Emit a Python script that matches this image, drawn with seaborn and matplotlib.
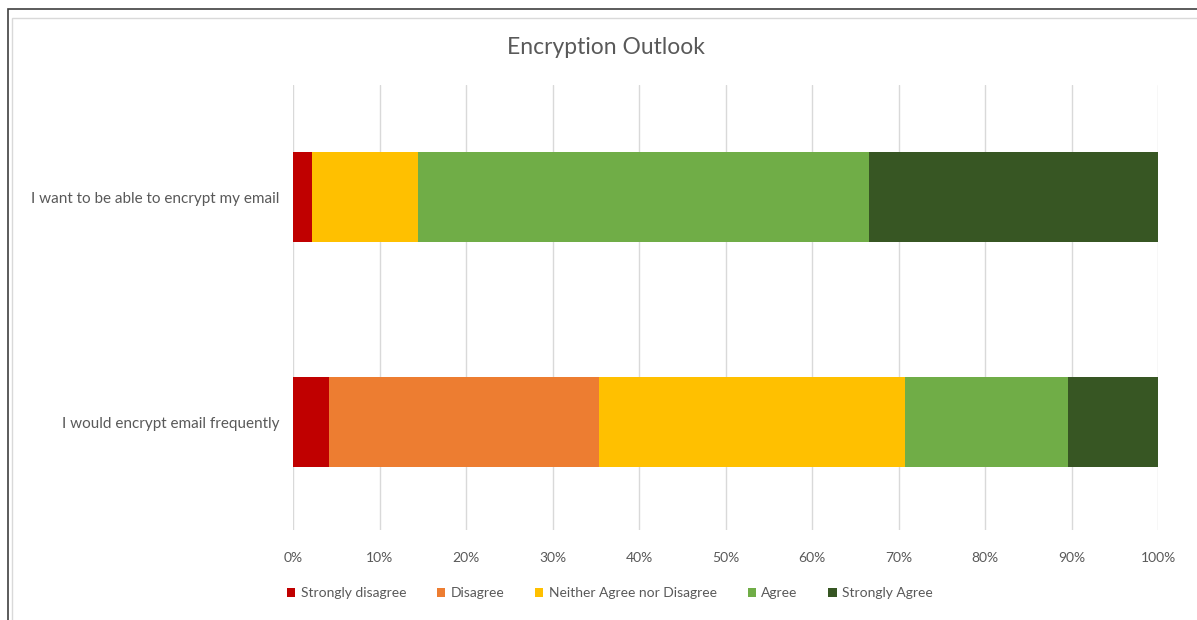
import matplotlib
matplotlib.use("Agg")
import matplotlib.pyplot as plt
from matplotlib.patches import Rectangle, Patch
import pandas as pd
import seaborn as sns

# data (percent of respondents)
categories = ["I want to be able to encrypt my email", "I would encrypt email frequently"]
responses = ["Strongly disagree", "Disagree", "Neither Agree nor Disagree", "Agree", "Strongly Agree"]
strongly_disagree = [2.2, 4.2]
disagree = [0.0, 31.2]
neither = [12.3, 35.3]
agree = [52.1, 18.9]
strongly_agree = [33.4, 10.4]
colors = ["#C00000", "#ED7D31", "#FFC000", "#70AD47", "#375623"]
ticks = [0, 10, 20, 30, 40, 50, 60, 70, 80, 90, 100]

sns.set_theme(style="white")
plt.rcParams["font.family"] = ["Lato", "DejaVu Sans"]

df = pd.DataFrame({"question": categories,
                   responses[0]: strongly_disagree,
                   responses[1]: disagree,
                   responses[2]: neither,
                   responses[3]: agree,
                   responses[4]: strongly_agree})
cum = df[responses].cumsum(axis=1)

fig = plt.figure(figsize=(11.97, 6.20), dpi=100)
ax = fig.add_axes([293 / 1197, 1 - 530 / 620, 865 / 1197, 445 / 620])

# stacked bars: draw cumulative totals, longest first
for resp, col in reversed(list(zip(responses, colors))):
    sns.barplot(x=cum[resp], y=df["question"], orient="h", color=col,
                width=0.4, saturation=1, linewidth=0, edgecolor="none", ax=ax, zorder=3)

ax.set_xlim(0, 100)
ax.set_ylim(1.48, -0.5)
ax.set_xticks(ticks)
ax.set_xticklabels([f"{t}%" for t in ticks])
ax.grid(axis="x", color="#D9D9D9", linewidth=1, zorder=0)
ax.set_axisbelow(True)
for s in ax.spines.values():
    s.set_visible(False)
ax.set_xlabel("")
ax.set_ylabel("")
ax.tick_params(axis="x", colors="#595959", labelsize=10, length=0, pad=16)
ax.tick_params(axis="y", colors="#595959", labelsize=11, length=0, pad=10)

fig.text(606 / 1197, 1 - 48 / 620, "Encryption Outlook", ha="center", va="center",
         fontsize=16.5, color="#595959")

handles = [Patch(facecolor=c, edgecolor="none") for c in colors]
fig.legend(handles, responses, loc="center", bbox_to_anchor=(610 / 1197, 1 - 593 / 620),
           ncol=5, frameon=False, fontsize=10, labelcolor="#595959",
           handlelength=0.6, handleheight=0.6, handletextpad=0.4, columnspacing=2.2)

# chart frame
fig.patches.append(Rectangle((8 / 1197, -0.1), 1.2, 1 - 9 / 620 + 0.1, transform=fig.transFigure,
                             fill=False, edgecolor="#404040", linewidth=1.2))
fig.patches.append(Rectangle((12 / 1197, -0.1), 1.2, 1 - 18 / 620 + 0.1, transform=fig.transFigure,
                             fill=False, edgecolor="#D9D9D9", linewidth=1))

fig.savefig("out.png", dpi=100)
